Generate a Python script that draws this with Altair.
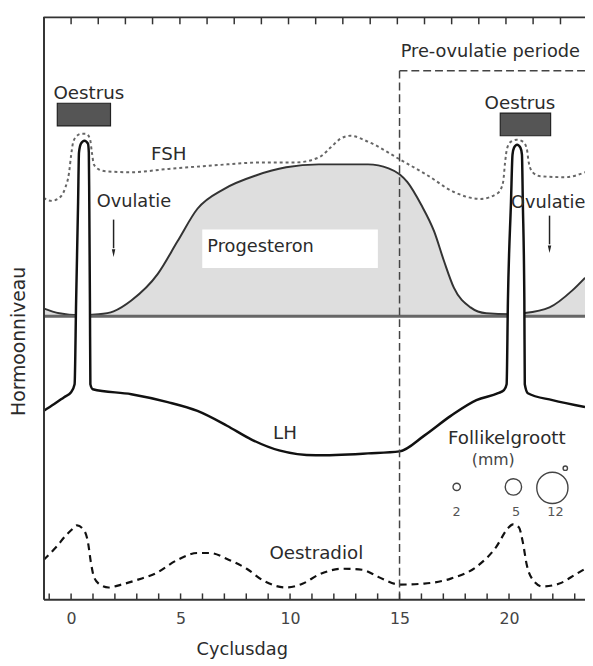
import altair as alt
import pandas as pd

FONT = "DejaVu Sans"
TXT = "#2b2b2b"

# ---------------- data (x = cycle day, y = hormone level, arbitrary units) ----------------
x_domain = [-1.26, 23.47]
y_domain = [0, 591]
x_labels = [0, 5, 10, 15, 20]

lh_day = [-1.26, -0.77, -0.32, 0.0, 0.16, 0.23, 0.32, 0.36, 0.45, 0.61, 0.77, 0.81, 0.83, 0.86, 0.88, 0.99,
          2.75, 4.41, 5.77, 7.12, 8.24, 9.50, 11.17, 13.56, 15.0, 16.13, 17.34, 18.51, 19.50, 19.77, 19.89,
          19.95, 20.09, 20.16, 20.23, 20.37, 20.52, 20.59, 20.63, 20.70, 20.72, 20.86, 21.98, 23.47]
lh_level = [191, 198, 205, 210, 218, 303, 403, 453, 462, 465, 462, 453, 403, 303, 218, 213,
            208, 200, 191, 176, 162, 151, 146, 148, 150, 166, 186, 202, 209, 212, 218,
            303, 403, 451, 458, 461, 458, 451, 403, 303, 218, 209, 202, 195]

fsh_day = [-1.26, -0.90, -0.54, -0.27, -0.09, 0.0, 0.09, 0.23, 0.45, 0.68, 0.86, 0.95, 1.04, 1.26, 1.58,
           2.75, 4.28, 6.53, 8.78, 10.27, 11.31, 11.85, 12.30, 12.75, 13.56, 15.09, 16.27, 17.48, 18.69,
           19.50, 19.73, 19.82, 19.91, 20.09, 20.36, 20.63, 20.81, 20.90, 21.08, 21.44, 22.57, 23.47]
fsh_level = [407, 404, 407, 417, 433, 450, 463, 469, 472, 472, 467, 453, 441, 436, 434,
             433, 436, 440, 443, 443, 448, 458, 467, 470, 464, 445, 430, 413, 406,
             412, 423, 443, 457, 464, 466, 464, 457, 443, 433, 429, 428, 433]

prog_day = [-1.26, -0.54, 0.36, 1.26, 1.94, 2.75, 3.96, 4.86, 5.77, 6.98, 8.47, 9.82, 11.31, 13.56, 14.50,
            15.0, 15.36, 15.99, 16.58, 17.03, 17.48, 18.24, 18.96, 20.05, 20.63, 21.85, 22.88, 23.47]
prog_level = [295, 290, 288, 289, 292, 303, 330, 363, 396, 416, 430, 438, 441, 441, 437,
              431, 423, 400, 373, 343, 316, 296, 290, 289, 290, 296, 313, 326]
prog_baseline = 287

oe_day = [-1.26, -0.68, -0.23, 0.0, 0.27, 0.59, 0.77, 0.90, 1.04, 1.26, 1.71, 2.30, 3.06, 3.83, 4.86, 5.77,
          6.35, 7.12, 8.02, 8.78, 9.82, 10.59, 11.31, 12.39, 13.29, 14.01, 15.0, 16.13, 17.34, 18.51,
          19.41, 19.95, 20.18, 20.45, 20.63, 20.81, 21.08, 21.53, 22.30, 23.02, 23.47]
oe_level = [40, 53, 65, 70, 75, 70, 58, 38, 23, 16, 12, 15, 20, 26, 40, 47,
            47, 41, 31, 19, 12, 16, 25, 31, 30, 23, 15, 16, 21, 33,
            53, 72, 76, 73, 58, 35, 20, 13, 16, 25, 31]

bottom_tick_days = [-1, 0, 1, 2, 3, 4, 5, 6, 7, 8, 9, 10, 11, 12, 13, 14, 15, 16, 17, 18, 19, 20, 21, 22, 23]
top_tick_days = [0, 1.24, 2.48, 3.72, 4.97, 6.21, 7.45, 8.69, 9.93, 11.17, 12.41, 13.66, 14.90, 16.14,
                 17.38, 18.62, 19.86, 21.10, 22.35]
top_border_level = 590

preov_day = 15.0
preov_top = 536

oestrus_day1 = [-0.63, 19.6]
oestrus_day2 = [1.80, 21.9]
oestrus_low = [480, 470]
oestrus_high = [503, 493]

prog_box = {"day": [5.99], "day2": [14.01], "level": [336], "level2": [375]}

arrow_day = [1.94, 21.85]
arrow_top = [385, 389]
arrow_bottom = [356, 360]
arrow_head = [351, 355]

follicle_day = [17.61, 20.20, 21.98, 22.57]
follicle_level = [114, 114, 113, 133]
follicle_size = [55, 276, 1000, 20]

labels_center = ["Oestrus", "Oestrus", "FSH", "LH", "Oestradiol", "Follikelgroott"]
labels_center_day = [0.81, 20.5, 4.46, 9.77, 11.2, 19.9]
labels_center_level = [513, 503, 451, 169, 47, 164]

labels_left = ["Ovulatie", "Ovulatie", "Progesteron", "Pre-ovulatie periode"]
labels_left_day = [1.17, 20.09, 6.22, 15.05]
labels_left_level = [403, 402, 357, 555]

mm_label = ["(mm)"]
mm_day = [19.28]
mm_level = [141]

size_labels = ["2", "5", "12"]
size_label_day = [17.61, 20.32, 22.12]
size_label_level = [88, 88, 88]

# ---------------- scales / axes ----------------
xs = alt.Scale(domain=x_domain, nice=False, zero=False)
ys = alt.Scale(domain=y_domain, nice=False, zero=False)
xax = alt.Axis(values=x_labels, ticks=False, grid=False, domainColor="#333", domainWidth=2,
               labelFont=FONT, labelFontSize=16, labelColor="#444", labelPadding=12, labelFlush=False,
               title="Cyclusdag", titleFont=FONT, titleFontSize=18, titleFontWeight="normal",
               titleColor=TXT, titleX=201, titleY=56, titleBaseline="alphabetic", titleAlign="center",
               zindex=1)
yax = alt.Axis(labels=False, ticks=False, grid=False, domainColor="#333", domainWidth=2,
               title="Hormoonniveau", titleFont=FONT, titleFontSize=19, titleFontWeight="normal",
               titleColor=TXT, titleX=-19, titleY=329, titleAngle=270, titleBaseline="alphabetic",
               titleAlign="center", zindex=1)


def X(f="day"):
    return alt.X(f + ":Q", scale=xs, axis=xax)


def Y(f="level"):
    return alt.Y(f + ":Q", scale=ys, axis=yax)


def df(**kw):
    return pd.DataFrame(kw)


layers = []

# progesterone area + outline
prog = df(day=prog_day, level=prog_level, base=[prog_baseline] * len(prog_day))
layers.append(alt.Chart(prog).mark_area(color="#dedede", interpolate="monotone").encode(
    x=X(), y=Y(), y2=alt.Y2("base:Q")))
layers.append(alt.Chart(prog).mark_line(color="#333", strokeWidth=2, interpolate="monotone").encode(x=X(), y=Y()))

# baseline
layers.append(alt.Chart(df(day=[x_domain[0]], day2=[x_domain[1]], level=[prog_baseline])).mark_rule(
    color="#666", strokeWidth=3).encode(x=X(), x2=alt.X2("day2:Q"), y=Y()))

# progesterone label box
layers.append(alt.Chart(df(**prog_box)).mark_rect(color="white").encode(
    x=X(), x2=alt.X2("day2:Q"), y=Y(), y2=alt.Y2("level2:Q")))

# FSH dotted
layers.append(alt.Chart(df(day=fsh_day, level=fsh_level)).mark_line(
    color="#666", strokeWidth=2, strokeDash=[3, 3], interpolate="monotone").encode(x=X(), y=Y()))

# LH (white interior of the spikes + line)
lh = df(day=lh_day, level=lh_level, zero=[0] * len(lh_day))
layers.append(alt.Chart(lh).mark_area(color="white", interpolate="monotone").encode(
    x=X(), y=Y(), y2=alt.Y2("zero:Q")))
layers.append(alt.Chart(lh).mark_line(color="#111", strokeWidth=2.5, interpolate="monotone").encode(x=X(), y=Y()))

# Oestradiol dashed
layers.append(alt.Chart(df(day=oe_day, level=oe_level)).mark_line(
    color="#111", strokeWidth=2.2, strokeDash=[7, 5], interpolate="monotone").encode(x=X(), y=Y()))

# pre-ovulation period boundary
layers.append(alt.Chart(df(day=[preov_day], level=[0], level2=[preov_top])).mark_rule(
    color="#444", strokeWidth=1.5, strokeDash=[8, 4]).encode(x=X(), y=Y(), y2=alt.Y2("level2:Q")))
layers.append(alt.Chart(df(day=[preov_day], day2=[x_domain[1]], level=[preov_top])).mark_rule(
    color="#444", strokeWidth=1.5, strokeDash=[8, 4]).encode(x=X(), x2=alt.X2("day2:Q"), y=Y()))

# oestrus boxes
layers.append(alt.Chart(df(day=oestrus_day1, day2=oestrus_day2, level=oestrus_low, level2=oestrus_high)).mark_rect(
    color="#555", stroke="#222", strokeWidth=1.2).encode(x=X(), x2=alt.X2("day2:Q"), y=Y(), y2=alt.Y2("level2:Q")))

# arrows
layers.append(alt.Chart(df(day=arrow_day, level=arrow_top, level2=arrow_bottom)).mark_rule(
    color="#222", strokeWidth=1.5).encode(x=X(), y=Y(), y2=alt.Y2("level2:Q")))
layers.append(alt.Chart(df(day=arrow_day, level=arrow_head)).mark_point(
    shape="M-0.45,-1L0.45,-1L0,1Z", filled=True, color="#222", size=60, opacity=1).encode(x=X(), y=Y()))

# follicle circles
layers.append(alt.Chart(df(day=follicle_day, level=follicle_level, s=follicle_size)).mark_point(
    shape="circle", filled=False, color="#444", strokeWidth=1.4, opacity=1).encode(
    x=X(), y=Y(), size=alt.Size("s:Q", scale=None, legend=None)))

# texts
layers.append(alt.Chart(df(day=labels_center_day, level=labels_center_level, t=labels_center)).mark_text(
    font=FONT, fontSize=18.5, color=TXT, align="center", baseline="middle").encode(x=X(), y=Y(), text="t:N"))
layers.append(alt.Chart(df(day=labels_left_day, level=labels_left_level, t=labels_left)).mark_text(
    font=FONT, fontSize=18, color=TXT, align="left", baseline="middle").encode(x=X(), y=Y(), text="t:N"))
layers.append(alt.Chart(df(day=mm_day, level=mm_level, t=mm_label)).mark_text(
    font=FONT, fontSize=16, color="#444", align="center", baseline="middle").encode(x=X(), y=Y(), text="t:N"))
layers.append(alt.Chart(df(day=size_label_day, level=size_label_level, t=size_labels)).mark_text(
    font=FONT, fontSize=13, color="#555", align="center", baseline="middle").encode(x=X(), y=Y(), text="t:N"))

# axis ticks (inward) and top border
layers.append(alt.Chart(df(day=bottom_tick_days, level=[0] * len(bottom_tick_days),
                           level2=[6] * len(bottom_tick_days))).mark_rule(color="#333", strokeWidth=1.5).encode(
    x=X(), y=Y(), y2=alt.Y2("level2:Q")))
layers.append(alt.Chart(df(day=top_tick_days, level=[top_border_level - 7] * len(top_tick_days),
                           level2=[top_border_level] * len(top_tick_days))).mark_rule(color="#333", strokeWidth=1.5).encode(
    x=X(), y=Y(), y2=alt.Y2("level2:Q")))
layers.append(alt.Chart(df(day=[x_domain[0]], day2=[x_domain[1]], level=[top_border_level])).mark_rule(
    color="#333", strokeWidth=1.8).encode(x=X(), x2=alt.X2("day2:Q"), y=Y()))

chart = alt.layer(*layers).properties(
    width=549, height=591,
    autosize=alt.AutoSizeParams(type="none"),
    padding={"left": 36, "top": 4, "right": 0, "bottom": 60},
).configure_view(stroke=None)

chart.save("out.html", embed_options={"renderer": "svg", "actions": False})
